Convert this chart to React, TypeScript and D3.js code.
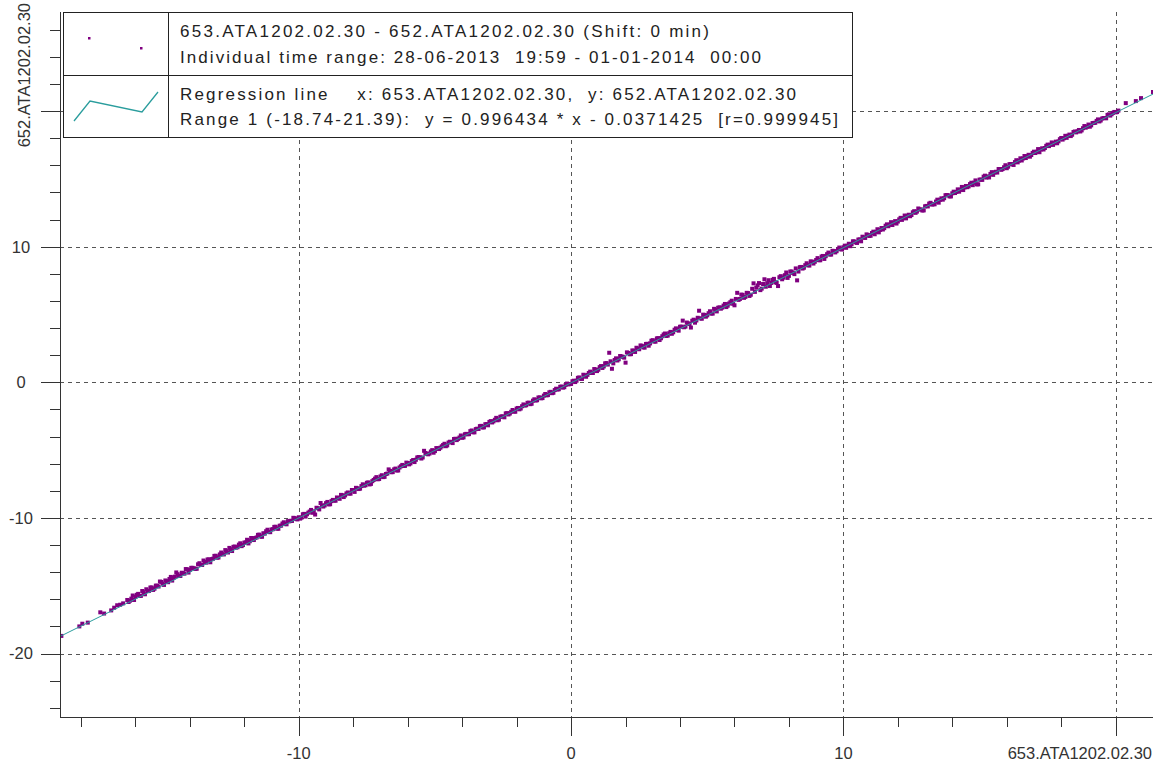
import React from 'react';
import * as d3 from 'd3';

// ---------- DATA ----------
const sparseLow: [number, number][] = [
  [-18.72, -18.70], [-18.06, -18.0], [-17.95, -17.80], [-17.75, -17.72], [-17.29, -16.96],
  [-17.15, -17.05], [-16.89, -16.82], [-16.78, -16.62], [-16.67, -16.44], [-16.56, -16.40], [-16.45, -16.30],
];

const bandNeg1: [number, number][] = [
  [-16.3,-16.05],[-16.2,-16.10],[-16.1,-15.72],[-16.0,-15.82],[-15.9,-15.60],[-15.8,-15.75],[-15.7,-15.48],[-15.6,-15.26],[-15.5,-15.38],[-15.4,-15.13],
  [-15.3,-15.22],[-15.2,-15.00],[-15.1,-14.69],[-15.0,-14.85],[-14.9,-14.61],[-14.8,-14.74],[-14.7,-14.35],[-14.6,-14.42],[-14.5,-14.02],[-14.4,-14.28],
  [-14.3,-14.04],[-14.2,-14.11],[-14.1,-13.79],[-14.0,-13.83],[-13.9,-13.68],[-13.8,-13.76],[-13.7,-13.42],[-13.6,-13.46],[-13.5,-13.14],[-13.4,-13.30],
  [-13.3,-13.06],[-13.2,-13.04],[-13.1,-12.80],[-13.0,-12.93],[-12.9,-12.69],[-12.8,-12.67],[-12.7,-12.37],[-12.6,-12.55],[-12.5,-12.31],[-12.4,-12.13],
  [-12.3,-12.19],[-12.2,-11.97],[-12.1,-12.08],[-12.0,-11.82],[-11.9,-11.61],[-11.8,-11.72],[-11.7,-11.50],[-11.6,-11.48],[-11.5,-11.25],[-11.4,-11.37],
  [-11.3,-11.13],[-11.2,-10.98],[-11.1,-11.04],[-11.0,-10.85],[-10.9,-10.66],[-10.8,-10.79],[-10.7,-10.57],[-10.6,-10.41],[-10.5,-10.45],[-10.4,-10.24],
  [-10.3,-10.21],[-10.2,-9.99],[-10.1,-10.08],
];

const bandNeg1b: [number, number][] = [
  [-16.25,-16.20],[-16.15,-15.95],[-16.05,-16.05],[-15.95,-15.67],[-15.85,-15.75],[-15.75,-15.39],[-15.65,-15.63],[-15.55,-15.40],[-15.45,-15.13],[-15.35,-15.31],
  [-15.25,-14.99],[-15.15,-15.06],[-15.05,-14.72],[-14.95,-14.94],[-14.85,-14.66],[-14.75,-14.50],[-14.65,-14.62],[-14.55,-14.33],[-14.45,-14.15],[-14.35,-14.28],
  [-14.25,-14.07],[-14.15,-13.77],[-14.05,-14.03],[-13.95,-13.68],[-13.85,-13.72],[-13.75,-13.75],[-13.65,-13.34],[-13.55,-13.47],[-13.45,-13.24],[-13.35,-13.06],
  [-13.25,-13.27],[-13.15,-13.01],[-13.05,-12.79],[-12.95,-12.92],[-12.85,-12.55],[-12.75,-12.69],[-12.65,-12.45],[-12.55,-12.21],[-12.45,-12.44],[-12.35,-12.11],
  [-12.25,-12.16],[-12.15,-11.87],[-12.05,-12.00],[-11.95,-11.80],[-11.85,-11.88],[-11.75,-11.48],[-11.65,-11.63],[-11.55,-11.44],[-11.45,-11.23],[-11.35,-11.39],
  [-11.25,-11.16],[-11.15,-10.87],[-11.05,-11.05],[-10.95,-10.83],[-10.85,-10.65],[-10.75,-10.80],[-10.65,-10.57],[-10.55,-10.32],[-10.45,-10.47],[-10.35,-10.25],
  [-10.25,-10.22],[-10.15,-10.01],[-10.05,-10.11],
];

const bandNeg2: [number, number][] = [
  [-10.0,-9.95],[-9.9,-9.98],[-9.8,-9.70],[-9.7,-9.73],[-9.6,-9.53],[-9.5,-9.62],[-9.4,-9.75],[-9.3,-9.28],[-9.2,-8.90],[-9.1,-9.16],
  [-9.0,-8.91],[-8.9,-9.00],[-8.8,-8.76],[-8.7,-8.72],[-8.6,-8.49],[-8.5,-8.59],[-8.4,-8.34],[-8.3,-8.34],[-8.2,-8.12],[-8.1,-8.21],
  [-8.0,-7.97],[-7.9,-7.78],[-7.8,-7.87],[-7.7,-7.65],[-7.6,-7.62],[-7.5,-7.41],[-7.4,-7.53],[-7.3,-7.29],[-7.2,-7.10],[-7.1,-7.15],
  [-7.0,-6.94],[-6.9,-6.99],[-6.8,-6.76],[-6.7,-6.42],[-6.6,-6.63],[-6.5,-6.42],[-6.4,-6.50],[-6.3,-6.28],[-6.2,-6.09],[-6.1,-6.16],
  [-6.0,-5.95],[-5.9,-5.98],[-5.8,-5.73],[-5.7,-5.71],[-5.6,-5.51],[-5.5,-5.62],[-5.4,-5.05],[-5.3,-5.27],[-5.2,-5.25],[-5.1,-5.00],
  [-5.0,-5.07],[-4.9,-4.86],[-4.8,-4.82],[-4.7,-4.62],[-4.6,-4.71],[-4.5,-4.44],[-4.4,-4.40],[-4.3,-4.18],[-4.2,-4.26],[-4.1,-4.07],
  [-4.0,-4.09],[-3.9,-3.83],[-3.8,-3.83],[-3.7,-3.60],[-3.6,-3.68],[-3.5,-3.45],[-3.4,-3.44],[-3.3,-3.21],[-3.2,-3.32],[-3.1,-3.08],
  [-3.0,-2.92],[-2.9,-2.96],[-2.8,-2.76],[-2.7,-2.80],[-2.6,-2.54],[-2.5,-2.52],[-2.4,-2.29],[-2.3,-2.37],[-2.2,-2.17],[-2.1,-2.15],
  [-2.0,-1.93],[-1.9,-1.99],[-1.8,-1.76],[-1.7,-1.71],[-1.6,-1.51],[-1.5,-1.61],[-1.4,-1.35],[-1.3,-1.34],[-1.2,-1.12],[-1.1,-1.18],
  [-1.0,-0.98],[-0.9,-0.96],[-0.8,-0.74],[-0.7,-0.80],[-0.6,-0.57],[-0.5,-0.53],[-0.4,-0.33],[-0.3,-0.39],[-0.2,-0.19],[-0.1,-0.15],
];

const bandNeg2b: [number, number][] = [
  [-9.95,-10.05],[-9.85,-9.73],[-9.75,-9.90],[-9.65,-9.61],[-9.55,-9.41],[-9.45,-9.51],[-9.35,-9.25],[-9.25,-9.37],[-9.15,-9.08],[-9.05,-9.08],
  [-8.95,-8.82],[-8.85,-8.99],[-8.75,-8.67],[-8.65,-8.73],[-8.55,-8.53],[-8.45,-8.30],[-8.35,-8.46],[-8.25,-8.19],[-8.15,-8.20],[-8.05,-7.94],
  [-7.95,-8.08],[-7.85,-7.82],[-7.75,-7.84],[-7.65,-7.52],[-7.55,-7.59],[-7.45,-7.38],[-7.35,-7.49],[-7.25,-7.20],[-7.15,-6.99],[-7.05,-7.13],
  [-6.95,-6.85],[-6.85,-6.97],[-6.75,-6.73],[-6.65,-6.53],[-6.55,-6.62],[-6.45,-6.36],[-6.35,-6.50],[-6.25,-6.19],[-6.15,-6.17],[-6.05,-5.92],
  [-5.95,-6.05],[-5.85,-5.81],[-5.75,-5.88],[-5.65,-5.54],[-5.55,-5.54],[-5.45,-5.54],[-5.35,-5.21],[-5.25,-5.31],[-5.15,-5.10],[-5.05,-5.19],
  [-4.95,-4.85],[-4.85,-4.92],[-4.75,-4.72],[-4.65,-4.53],[-4.55,-4.65],[-4.45,-4.38],[-4.35,-4.48],[-4.25,-4.16],[-4.15,-4.17],[-4.05,-3.92],
  [-3.95,-4.06],[-3.85,-3.80],[-3.75,-3.82],[-3.65,-3.55],[-3.55,-3.69],[-3.45,-3.42],[-3.35,-3.23],[-3.25,-3.33],[-3.15,-3.09],[-3.05,-3.17],
  [-2.95,-2.86],[-2.85,-2.88],[-2.75,-2.62],[-2.65,-2.75],[-2.55,-2.51],[-2.45,-2.58],[-2.35,-2.27],[-2.25,-2.30],[-2.15,-2.04],[-2.05,-2.17],
  [-1.95,-1.89],[-1.85,-1.93],[-1.75,-1.63],[-1.65,-1.69],[-1.55,-1.50],[-1.45,-1.58],[-1.35,-1.25],[-1.25,-1.32],[-1.15,-1.11],[-1.05,-1.16],
  [-0.95,-0.86],[-0.85,-0.94],[-0.75,-0.70],[-0.65,-0.77],[-0.55,-0.47],[-0.45,-0.51],[-0.35,-0.31],[-0.25,-0.36],[-0.15,-0.09],[-0.05,-0.13],
];

const bandPos1: [number, number][] = [
  [0.0,-0.12],[0.1,0.12],[0.2,0.12],[0.3,0.36],[0.4,0.25],[0.5,0.51],[0.6,0.55],[0.7,0.79],[0.8,0.69],[0.9,0.94],
  [1.0,0.93],[1.1,1.20],[1.2,1.17],[1.3,1.42],[1.4,2.18],[1.5,1.00],[1.6,1.65],[1.7,1.61],[1.8,1.94],[1.9,1.88],
  [2.0,1.45],[2.1,2.17],[2.2,2.08],[2.3,2.33],[2.4,2.55],[2.5,2.44],[2.6,2.69],[2.7,2.56],[2.8,2.84],[2.9,2.87],
  [3.0,3.11],[3.1,3.00],[3.2,3.26],[3.3,3.25],[3.4,3.53],[3.5,3.42],[3.6,3.62],[3.7,3.58],[3.8,3.88],[3.9,3.88],
  [4.0,4.10],[4.1,4.55],[4.2,4.11],[4.3,4.35],[4.4,4.04],[4.5,4.62],[4.6,4.56],[4.7,5.28],[4.8,4.69],[4.9,4.97],
  [5.0,4.94],[5.1,5.24],[5.2,5.07],[5.3,5.33],[5.4,5.50],[5.5,5.43],[5.6,5.66],[5.7,5.55],[5.8,5.81],[5.9,6.02],
  [6.0,5.68],[6.1,6.60],[6.2,6.15],[6.3,6.45],[6.4,6.30],[6.5,6.58],[6.6,6.46],[6.7,7.30],[6.8,6.98],[6.9,7.32],
  [7.0,6.91],[7.1,7.60],[7.2,7.31],[7.3,7.10],[7.4,7.56],[7.5,7.38],[7.6,7.10],[7.7,7.83],[7.8,7.72],[7.9,8.10],
  [8.0,7.85],[8.1,8.17],[8.2,7.98],[8.3,7.52],[8.4,8.49],[8.5,8.39],[8.6,8.64],[8.7,8.64],[8.8,8.92],[8.9,8.76],
  [9.0,9.02],[9.1,9.01],[9.2,9.28],[9.3,9.10],[9.4,9.45],[9.5,9.43],[9.6,9.70],[9.7,9.58],[9.8,9.81],[9.9,9.85],
];

const bandPos1b: [number, number][] = [
  [0.05,0.08],[0.15,0.02],[0.25,0.33],[0.35,0.26],[0.45,0.56],[0.55,0.41],[0.65,0.69],[0.75,0.69],[0.85,0.98],[0.95,0.83],
  [1.05,1.12],[1.15,1.06],[1.25,1.40],[1.35,1.31],[1.45,1.55],[1.55,1.40],[1.65,1.77],[1.75,1.70],[1.85,1.91],[1.95,1.82],
  [2.05,2.21],[2.15,2.07],[2.25,2.35],[2.35,2.24],[2.45,2.49],[2.55,2.72],[2.65,2.58],[2.75,2.83],[2.85,2.70],[2.95,3.07],
  [3.05,3.01],[3.15,3.24],[3.25,3.12],[3.35,3.40],[3.45,3.60],[3.55,3.45],[3.65,3.72],[3.75,3.69],[3.85,3.98],[3.95,3.81],
  [4.05,4.11],[4.15,4.06],[4.25,4.41],[4.35,4.30],[4.45,4.54],[4.55,4.40],[4.65,4.76],[4.75,4.72],[4.85,4.99],[4.95,4.84],
  [5.05,5.10],[5.15,5.07],[5.25,5.42],[5.35,5.23],[5.45,5.53],[5.55,5.51],[5.65,5.78],[5.75,5.65],[5.85,5.91],[5.95,5.79],
  [6.05,6.15],[6.15,6.08],[6.25,6.47],[6.35,6.23],[6.45,6.60],[6.55,6.37],[6.65,6.90],[6.75,6.67],[6.85,7.15],[6.95,6.80],
  [7.05,7.25],[7.15,7.05],[7.25,7.53],[7.35,7.33],[7.45,7.63],[7.55,7.33],[7.65,7.75],[7.75,7.60],[7.85,7.90],[7.95,7.70],
  [8.05,8.17],[8.15,8.07],[8.25,8.40],[8.35,8.17],[8.45,8.51],[8.55,8.45],[8.65,8.78],[8.75,8.61],[8.85,8.89],[8.95,8.89],
  [9.05,9.16],[9.15,9.00],[9.25,9.32],[9.35,9.30],[9.45,9.57],[9.55,9.42],[9.65,9.68],[9.75,9.67],[9.85,9.94],[9.95,9.79],
];

const bandPos2: [number, number][] = [
  [10.0,9.96],[10.1,9.92],[10.2,10.22],[10.3,10.18],[10.4,10.39],[10.5,10.28],[10.6,10.54],[10.7,10.74],[10.8,10.65],[10.9,10.87],
  [11.0,10.81],[11.1,11.11],[11.2,11.10],[11.3,11.06],[11.4,11.38],[11.5,11.37],[11.6,11.65],[11.7,11.62],[11.8,11.60],[11.9,11.89],
  [12.0,11.86],[12.1,12.13],[12.2,12.11],[12.3,12.09],[12.4,12.36],[12.5,12.34],[12.6,12.62],[12.7,12.59],[12.8,12.75],[12.9,12.67],
  [13.0,12.98],[13.1,12.97],[13.2,13.24],[13.3,13.13],[13.4,13.33],[13.5,13.25],[13.6,13.57],[13.7,13.58],[13.8,13.81],[13.9,13.71],
  [14.0,13.94],[14.1,13.96],[14.2,14.23],[14.3,14.20],[14.4,14.18],[14.5,14.48],[14.6,14.45],[14.7,14.72],[14.8,14.72],[14.9,14.60],
  [15.0,14.95],[15.1,14.93],[15.2,15.24],[15.3,15.19],[15.4,15.37],[15.5,15.30],[15.6,15.53],[15.7,15.73],[15.8,15.67],[15.9,15.86],
  [16.0,15.79],[16.1,16.09],[16.2,16.08],[16.3,16.24],[16.4,16.22],[16.5,16.52],[16.6,16.51],[16.7,16.54],[16.8,16.78],[16.9,16.76],
  [17.0,17.01],[17.1,17.00],[17.2,16.97],[17.3,17.26],[17.4,17.28],[17.5,17.53],[17.6,17.52],[17.7,17.51],[17.8,17.75],[17.9,17.77],
  [18.0,18.02],[18.1,18.00],[18.2,18.03],[18.3,18.27],[18.4,18.26],[18.5,18.50],[18.6,18.51],[18.7,18.50],[18.8,18.74],[18.9,18.78],
  [19.0,19.01],[19.1,18.95],[19.2,19.13],[19.3,19.28],[19.4,19.24],[19.5,19.45],[19.6,19.49],[19.7,19.72],[19.8,19.67],[19.9,19.87],
  [20.0,19.91],[20.1,20.04],
];

const bandPos2b: [number, number][] = [
  [10.05,10.08],[10.15,10.07],[10.25,10.04],[10.35,10.40],[10.45,10.32],[10.55,10.53],[10.65,10.40],[10.75,10.68],[10.85,10.91],[10.95,10.79],
  [11.05,11.01],[11.15,10.92],[11.25,11.29],[11.35,11.24],[11.45,11.27],[11.55,11.55],[11.65,11.51],[11.75,11.81],[11.85,11.76],[11.95,11.71],
  [12.05,12.02],[12.15,11.98],[12.25,12.30],[12.35,12.28],[12.45,12.25],[12.55,12.54],[12.65,12.50],[12.75,12.82],[12.85,12.75],[12.95,12.68],
  [13.05,13.01],[13.15,13.18],[13.25,13.11],[13.35,13.13],[13.45,13.47],[13.55,13.46],[13.65,13.47],[13.75,13.80],[13.85,13.79],[13.95,13.71],
  [14.05,14.06],[14.15,14.04],[14.25,14.06],[14.35,14.41],[14.45,14.37],[14.55,14.39],[14.65,14.62],[14.75,14.54],[14.85,14.89],[14.95,14.60],
  [15.05,14.95],[15.15,15.17],[15.25,15.10],[15.35,15.11],[15.45,15.50],[15.55,15.47],[15.65,15.47],[15.75,15.73],[15.85,15.73],[15.95,16.01],
  [16.05,15.90],[16.15,16.10],[16.25,16.03],[16.35,16.38],[16.45,16.35],[16.55,16.36],[16.65,16.69],[16.75,16.68],[16.85,16.64],[16.95,16.92],
  [17.05,16.91],[17.15,17.20],[17.25,17.17],[17.35,17.17],[17.45,17.44],[17.55,17.42],[17.65,17.69],[17.75,17.64],[17.85,17.63],[17.95,17.93],
  [18.05,17.90],[18.15,18.18],[18.25,18.18],[18.35,18.16],[18.45,18.46],[18.55,18.43],[18.65,18.61],[18.75,18.58],[18.85,18.90],[18.95,18.86],
  [19.05,18.85],[19.15,19.12],[19.25,19.14],[19.35,19.39],[19.45,19.31],[19.55,19.49],[19.65,19.47],[19.75,19.76],[19.85,19.77],[19.95,19.94],
  [20.05,19.93],
];

const sparseHigh: [number, number][] = [
  [20.37, 20.59], [20.74, 20.74], [20.93, 20.96], [21.37, 21.41],
];

const regression = { slope: 0.996434, intercept: -0.0371425, from: -18.74, to: 21.39 };

const xTickLabels = [-10, 0, 10];
const yTickLabels = [-20, -10, 0, 10];
const gridX = [-10, 0, 10, 20];
const gridY = [-20, -10, 0, 10, 20];
const xAxisTitle = '653.ATA1202.02.30';
const yAxisTitle = '652.ATA1202.02.30';
const legendRow1 = [
  '653.ATA1202.02.30 - 652.ATA1202.02.30 (Shift: 0 min)',
  'Individual time range: 28-06-2013  19:59 - 01-01-2014  00:00',
];
const legendRow2 = [
  'Regression line    x: 653.ATA1202.02.30,  y: 652.ATA1202.02.30',
  'Range 1 (-18.74-21.39):  y = 0.996434 * x - 0.0371425  [r=0.999945]',
];

// ---------- LAYOUT ----------
const W = 1153, H = 762;
const L = 60, R = 1153, T = 12, B = 717;
const POINT = '#800080';
const LINE = '#2a9d9d';
const AXIS = '#333';
const GRID = '#555';

export default function App() {
  const x = d3.scaleLinear().domain([-18.77, 21.37]).range([L, R]);
  const y = d3.scaleLinear().domain([-24.68, 27.31]).range([B, T]);

  const allPoints = [
    ...sparseLow, ...bandNeg1, ...bandNeg1b, ...bandNeg2, ...bandNeg2b,
    ...bandPos1, ...bandPos1b, ...bandPos2, ...bandPos2b, ...sparseHigh,
  ];
  const regLine = d3.line<number>()
    .x((v) => x(v))
    .y((v) => y(regression.slope * v + regression.intercept));

  const xMinor = d3.range(-18, 21.5, 2);
  const yMinor = d3.range(-24, 27.5, 2);

  const legend = { x0: 63, x1: 852, y0: 12, y1: 137, ySplit: 75, xSplit: 168 };
  const textX = 180;
  const legendWidths = [529, 581, 616, 658];
  const legendFont = { fontFamily: '"Liberation Sans", Arial, sans-serif', fontSize: 17, fill: '#222' };
  const axisFont = { fontFamily: '"Liberation Sans", Arial, sans-serif', fontSize: 16.5, fill: AXIS };
  const PS = 4;

  return (
    <svg width={W} height={H} style={{ position: 'absolute', left: 0, top: 0, background: '#fff' }}>
      <rect x={0} y={0} width={W} height={H} fill="#fff" />
      <defs>
        <clipPath id="plot">
          <rect x={L} y={T} width={R - L} height={B - T} />
        </clipPath>
      </defs>
      {/* grid */}
      <g stroke={GRID} strokeWidth={1} strokeDasharray="4 4" shapeRendering="crispEdges">
        {gridX.map((v) => (
          <line key={'gx' + v} x1={Math.round(x(v)) + 0.5} x2={Math.round(x(v)) + 0.5} y1={T} y2={B} />
        ))}
        {gridY.map((v) => (
          <line key={'gy' + v} x1={L} x2={R} y1={Math.round(y(v)) + 0.5} y2={Math.round(y(v)) + 0.5} />
        ))}
      </g>
      {/* points */}
      <g clipPath="url(#plot)" fill={POINT}>
        {allPoints.map(([px, py], i) => (
          <rect key={i} x={x(px) - PS / 2} y={y(py) - PS / 2} width={PS} height={PS} />
        ))}
      </g>
      {/* regression line */}
      <path
        clipPath="url(#plot)"
        d={regLine([regression.from, regression.to]) || ''}
        fill="none"
        stroke={LINE}
        strokeWidth={1}
      />
      {/* axes */}
      <g stroke={AXIS} strokeWidth={1} shapeRendering="crispEdges">
        <line x1={L + 0.5} x2={L + 0.5} y1={T} y2={B + 0.5} />
        <line x1={L} x2={R} y1={B + 0.5} y2={B + 0.5} />
        {yMinor.map((v) => {
          const major = v % 10 === 0;
          const yy = Math.round(y(v)) + 0.5;
          return <line key={'yt' + v} x1={major ? 41 : 50} x2={L} y1={yy} y2={yy} />;
        })}
        {xMinor.map((v) => {
          const major = v % 10 === 0;
          const xx = Math.round(x(v)) + 0.5;
          return <line key={'xt' + v} x1={xx} x2={xx} y1={B} y2={major ? 736 : 727} />;
        })}
      </g>
      {yTickLabels.map((v) => (
        <text key={'yl' + v} x={21} y={y(v)} dy="0.36em" textAnchor="middle" {...axisFont}>
          {v}
        </text>
      ))}
      {xTickLabels.map((v) => (
        <text key={'xl' + v} x={x(v)} y={759} textAnchor="middle" {...axisFont}>
          {v}
        </text>
      ))}
      <text x={R - 1} y={759} textAnchor="end" {...axisFont}>
        {xAxisTitle}
      </text>
      <text transform="translate(30,3) rotate(-90)" textAnchor="end" {...axisFont}>
        {yAxisTitle}
      </text>
      {/* legend */}
      <g>
        <rect
          x={legend.x0 + 0.5}
          y={legend.y0 + 0.5}
          width={legend.x1 - legend.x0}
          height={legend.y1 - legend.y0}
          fill="#fff"
          stroke="#222"
          strokeWidth={1}
          shapeRendering="crispEdges"
        />
        <line x1={legend.x0} x2={legend.x1} y1={legend.ySplit + 0.5} y2={legend.ySplit + 0.5} stroke="#222" shapeRendering="crispEdges" />
        <line x1={legend.xSplit + 0.5} x2={legend.xSplit + 0.5} y1={legend.y0} y2={legend.y1} stroke="#222" shapeRendering="crispEdges" />
        <rect x={88} y={37} width={2.5} height={2.5} fill={POINT} />
        <rect x={140} y={47} width={2.5} height={2.5} fill={POINT} />
        <polyline points="74,121 90,101 142,112 158,92" fill="none" stroke={LINE} strokeWidth={1.3} />
        {legendRow1.map((s, i) => (
          <text key={'l1' + i} x={textX} y={i === 0 ? 37 : 63} textLength={legendWidths[i]} lengthAdjust="spacing" style={{ whiteSpace: 'pre' }} {...legendFont}>
            {s}
          </text>
        ))}
        {legendRow2.map((s, i) => (
          <text key={'l2' + i} x={textX} y={i === 0 ? 100 : 125} textLength={legendWidths[i + 2]} lengthAdjust="spacing" style={{ whiteSpace: 'pre' }} {...legendFont}>
            {s}
          </text>
        ))}
      </g>
    </svg>
  );
}
